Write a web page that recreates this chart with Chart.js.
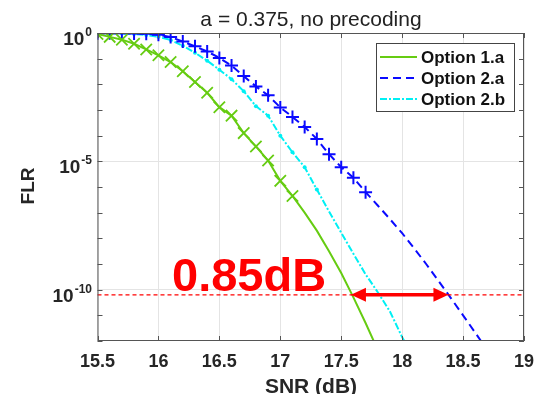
<!DOCTYPE html>
<html>
<head>
<meta charset="utf-8">
<title>FLR vs SNR</title>
<script src="https://cdn.jsdelivr.net/npm/chart.js@4.4.1/dist/chart.umd.min.js"></script>
<style>
  html, body { margin: 0; padding: 0; background: #fff; }
  #wrap { width: 536px; height: 394px; }
</style>
</head>
<body>
<div id="wrap"><canvas id="flrChart" width="536" height="394"></canvas></div>
<script>
// SNR grid (dB), one point every 0.1 dB
const snr = [15.5, 15.6, 15.7, 15.8, 15.9, 16.0, 16.1, 16.2, 16.3, 16.4, 16.5,
             16.6, 16.7, 16.8, 16.9, 17.0, 17.1, 17.2, 17.3, 17.4, 17.5, 17.6,
             17.7, 17.8, 17.9, 18.0, 18.1, 18.2, 18.3, 18.4, 18.5, 18.6, 18.7];

// log10(FLR)
const opt1aLog = [-0.04, -0.15, -0.26, -0.42, -0.64, -0.87, -1.13, -1.49, -1.91, -2.33, -2.89,
                  -3.22, -3.9, -4.42, -4.97, -5.76, -6.35, -7.0, -7.7, -8.5, -9.35, -10.3,
                  -11.3, -12.35];
const opt2aLog = [-0.005, -0.005, -0.01, -0.015, -0.03, -0.07, -0.16, -0.33, -0.52, -0.72, -0.97,
                  -1.27, -1.68, -2.08, -2.43, -2.9, -3.27, -3.66, -4.13, -4.72, -5.23, -5.64,
                  -6.2, -6.72, -7.25, -7.8, -8.4, -9.02, -9.67, -10.33, -11.0, -11.68, -12.36];
const opt2bLog = [0, -0.005, -0.015, -0.04, -0.08, -0.15, -0.27, -0.5, -0.77, -1.08, -1.43,
                  -1.8, -2.27, -2.85, -3.22, -4.0, -4.65, -5.23, -6.1, -6.95, -7.78, -8.6,
                  -9.4, -10.1, -10.85, -11.85, -12.7];

// how many leading points carry a marker
const opt1aMarks = 17;
const opt2aMarks = 23;
const opt2bMarks = 19;

const seriesNames = ['Option 1.a', 'Option 2.a', 'Option 2.b'];
const xTicks = [15.5, 16, 16.5, 17, 17.5, 18, 18.5, 19];
const yDecades = [0, -1, -2, -3, -4, -5, -6, -7, -8, -9, -10, -11, -12];
const yLabelled = [0, -5, -10];

// annotation: target FLR and the two crossing SNRs
const targetFlr = Math.pow(10, -10.2);
const gapFrom = 17.58;
const gapTo = 18.38;
const gapText = '0.85dB';
const titleText = 'a = 0.375, no precoding';

const GREEN = '#66cc12';
const BLUE = '#0a0aff';
const CYAN = '#00f0f4';
const RED = '#ff0000';
const INK = '#262626';
const FONT = '"Liberation Sans", Arial, Helvetica, sans-serif';

function toPoints(logs) {
  return logs.map((v, i) => ({ x: snr[i], y: Math.pow(10, v) }));
}
function markRadius(logs, n, r) {
  return logs.map((v, i) => (i < n ? r : 0));
}

const datasets = [
  {
    label: seriesNames[0],
    data: toPoints(opt1aLog),
    borderColor: GREEN,
    borderWidth: 2,
    pointStyle: 'crossRot',
    pointRadius: markRadius(opt1aLog, opt1aMarks, 8),
    pointBorderColor: GREEN,
    pointBorderWidth: 1.8,
    tension: 0
  },
  {
    label: seriesNames[1],
    data: toPoints(opt2aLog),
    borderColor: BLUE,
    borderWidth: 2,
    borderDash: [8, 5],
    pointStyle: 'cross',
    pointRadius: markRadius(opt2aLog, opt2aMarks, 6.5),
    pointBorderColor: BLUE,
    pointBorderWidth: 2,
    tension: 0
  },
  {
    label: seriesNames[2],
    data: toPoints(opt2bLog),
    borderColor: CYAN,
    borderWidth: 2,
    borderDash: [7, 2, 2, 2],
    pointStyle: 'circle',
    pointRadius: markRadius(opt2bLog, opt2bMarks, 2),
    pointBackgroundColor: CYAN,
    pointBorderColor: CYAN,
    pointBorderWidth: 0,
    tension: 0
  }
];

// Frame, inner ticks, labels, legend and the dB-gap annotation
const decorPlugin = {
  id: 'decor',
  afterDatasetsDraw(chart) {
    const ctx = chart.ctx;
    const a = chart.chartArea;
    const xs = chart.scales.x;
    const ys = chart.scales.y;
    ctx.save();

    // red target line
    const yT = ys.getPixelForValue(targetFlr);
    ctx.strokeStyle = RED;
    ctx.lineWidth = 1.2;
    ctx.setLineDash([4, 3]);
    ctx.beginPath();
    ctx.moveTo(a.left, yT);
    ctx.lineTo(a.right, yT);
    ctx.stroke();
    ctx.setLineDash([]);

    // double arrow
    const x1 = xs.getPixelForValue(gapFrom);
    const x2 = xs.getPixelForValue(gapTo);
    const head = 15, half = 7;
    ctx.fillStyle = RED;
    ctx.lineWidth = 3.5;
    ctx.beginPath();
    ctx.moveTo(x1 + head - 2, yT);
    ctx.lineTo(x2 - head + 2, yT);
    ctx.stroke();
    ctx.beginPath();
    ctx.moveTo(x1, yT);
    ctx.lineTo(x1 + head, yT - half);
    ctx.lineTo(x1 + head, yT + half);
    ctx.closePath();
    ctx.fill();
    ctx.beginPath();
    ctx.moveTo(x2, yT);
    ctx.lineTo(x2 - head, yT - half);
    ctx.lineTo(x2 - head, yT + half);
    ctx.closePath();
    ctx.fill();

    // gap text
    ctx.font = 'bold 47px ' + FONT;
    ctx.textAlign = 'left';
    ctx.textBaseline = 'alphabetic';
    ctx.fillText(gapText, 172, yT - 4);

    // frame
    ctx.strokeStyle = '#555';
    ctx.lineWidth = 1;
    ctx.strokeRect(a.left + 0.5, a.top + 0.5, a.right - a.left - 1, a.bottom - a.top - 1);

    // inner ticks
    ctx.beginPath();
    yDecades.forEach(e => {
      const y = Math.round(ys.getPixelForValue(Math.pow(10, e))) + 0.5;
      ctx.moveTo(a.left, y); ctx.lineTo(a.left + 5, y);
      ctx.moveTo(a.right, y); ctx.lineTo(a.right - 5, y);
    });
    xTicks.forEach(v => {
      const x = Math.round(xs.getPixelForValue(v)) + 0.5;
      ctx.moveTo(x, a.bottom); ctx.lineTo(x, a.bottom - 5);
      ctx.moveTo(x, a.top); ctx.lineTo(x, a.top + 5);
    });
    ctx.stroke();

    // y tick labels 10^e
    ctx.fillStyle = INK;
    yLabelled.forEach(e => {
      const y = ys.getPixelForValue(Math.pow(10, e));
      ctx.font = 'bold 12px ' + FONT;
      ctx.textAlign = 'right';
      const sup = e === 0 ? '0' : String(e);
      ctx.fillText(sup, 92, y + 3);
      const w = ctx.measureText(sup).width;
      ctx.font = 'bold 19px ' + FONT;
      ctx.fillText('10', 92 - w - 1, y + 12);
    });

    // title
    ctx.font = '21px ' + FONT;
    ctx.textAlign = 'center';
    ctx.fillStyle = '#222';
    ctx.fillText(titleText, 311, 26);

    // axis titles
    ctx.fillStyle = INK;
    ctx.font = 'bold 21px ' + FONT;
    ctx.fillText('SNR (dB)', 311, 393);
    ctx.save();
    ctx.translate(34, 186);
    ctx.rotate(-Math.PI / 2);
    ctx.font = 'bold 19px ' + FONT;
    ctx.fillText('FLR', 0, 0);
    ctx.restore();

    // legend
    const lx = 376, ly = 43, lw = 138, lh = 68;
    ctx.fillStyle = '#fff';
    ctx.fillRect(lx, ly, lw, lh);
    ctx.strokeStyle = '#444';
    ctx.lineWidth = 1;
    ctx.strokeRect(lx + 0.5, ly + 0.5, lw, lh);
    const rows = [57, 78, 99];
    chart.data.datasets.forEach((ds, i) => {
      ctx.strokeStyle = ds.borderColor;
      ctx.lineWidth = ds.borderWidth;
      ctx.setLineDash(ds.borderDash || []);
      ctx.beginPath();
      ctx.moveTo(380, rows[i]);
      ctx.lineTo(417, rows[i]);
      ctx.stroke();
      ctx.setLineDash([]);
      ctx.fillStyle = '#111';
      ctx.font = 'bold 17px ' + FONT;
      ctx.textAlign = 'left';
      ctx.textBaseline = 'middle';
      ctx.fillText(ds.label, 421, rows[i] + 1);
    });
    ctx.restore();
  }
};

new Chart(document.getElementById('flrChart').getContext('2d'), {
  type: 'line',
  data: { datasets: datasets },
  options: {
    responsive: false,
    animation: false,
    layout: { padding: { top: 33, right: 12, left: 0, bottom: 0 } },
    plugins: {
      legend: { display: false },
      title: { display: false },
      tooltip: { enabled: false }
    },
    scales: {
      x: {
        type: 'linear',
        min: 15.5,
        max: 19,
        afterBuildTicks: s => { s.ticks = xTicks.map(v => ({ value: v })); },
        afterFit: s => { s.height = 53; s.paddingLeft = 0; s.paddingRight = 0; },
        ticks: {
          color: INK,
          padding: 10,
          font: { family: FONT, weight: 'bold', size: 18 },
          callback: v => String(v)
        },
        grid: { color: '#e4e4e4', drawTicks: false },
        border: { display: false }
      },
      y: {
        type: 'logarithmic',
        min: 1e-12,
        max: 1,
        afterBuildTicks: s => { s.ticks = yDecades.map(e => ({ value: Math.pow(10, e) })); },
        afterFit: s => { s.width = 97.5; s.paddingTop = 0; s.paddingBottom = 0; },
        ticks: { display: false },
        grid: {
          drawTicks: false,
          color: c => (c.tick && yLabelled.some(e => Math.abs(Math.log10(c.tick.value) - e) < 1e-6)
            ? '#e4e4e4' : 'rgba(0,0,0,0)')
        },
        border: { display: false }
      }
    }
  },
  plugins: [decorPlugin]
});
</script>
</body>
</html>
